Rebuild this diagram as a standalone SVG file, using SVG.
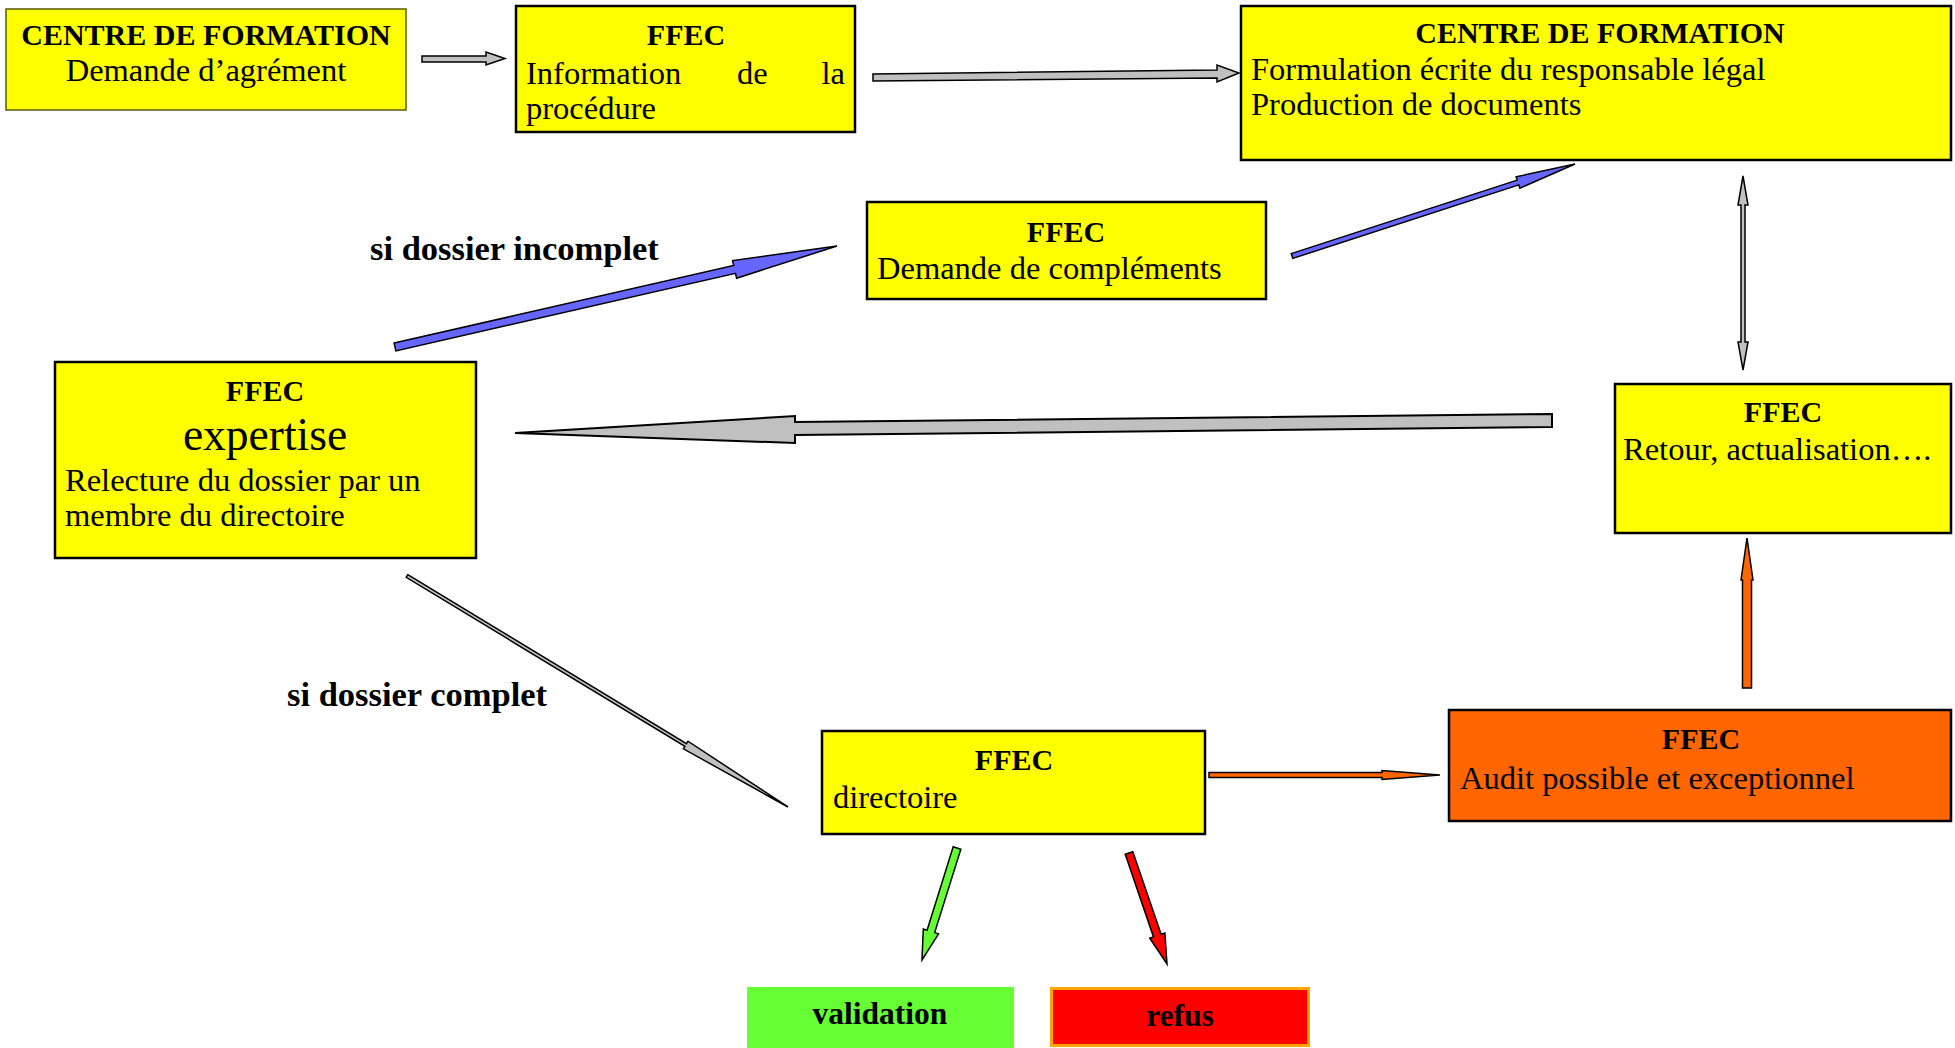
<svg xmlns="http://www.w3.org/2000/svg" width="1955" height="1048" viewBox="0 0 1955 1048">
<style>
text{font-family:"Liberation Serif","Times New Roman",serif;fill:#000}
.h{font-weight:bold;font-size:30px;text-anchor:middle}
.b{font-size:32.5px}
.lbl{font-weight:bold;font-size:34.5px}
.box{fill:#FFFF00;stroke:#000;stroke-width:2.5}
.arr{stroke:#000;stroke-width:1.5;stroke-linejoin:miter}
.gray{fill:#C0C0C0}
.blue{fill:#6666FF}
.orange{fill:#FF6600}
</style>
<rect width="1955" height="1048" fill="#fff"/>

<g id="connectors">
<polygon class="arr gray" points="422,56 486,56 486,52 505,58.5 486,65 486,62 422,62"/>
<polygon class="arr gray" points="873,74 1217,70 1217,65 1239,73 1217,82 1217,78 873,81"/>
<polygon class="arr blue" points="394.1,343.1 733.7,265.5 732.6,260.6 837,246 736.6,278.2 735.5,273.3 395.9,350.9"/>
<polygon class="arr blue" points="1291.2,253.6 1517.2,180.1 1516.1,176.8 1575,164 1519.9,188.2 1518.8,184.9 1292.8,258.4"/>
<polygon class="arr gray" points="1743,176 1748,205 1745,205 1745,342 1748,342 1743,370 1738,342 1741,342 1741,205 1738,205"/>
<polygon class="arr gray" style="stroke-width:2" points="1552,414 795,422 795,416 515,433 795,443 795,435 1552,427"/>
<polygon class="arr gray" points="407.8,574.7 686.5,743.7 688,741.2 788,807 683.4,748.8 684.9,746.3 406.2,577.3"/>
<polygon class="arr orange" points="1209,772.5 1382,772.5 1382,770.5 1440,775 1382,779.5 1382,777.5 1209,777.5"/>
<polygon class="arr orange" points="1742.5,688 1742.5,580 1741,580 1747,538 1753,580 1751.5,580 1751.5,688"/>
<polygon class="arr" fill="#66FF33" points="953.2,846.8 927.1,930.2 923.3,929 922,960 938.5,933.8 934.7,932.6 960.8,849.2"/>
<polygon class="arr" fill="#FF0000" points="1132.8,851.7 1161.1,934.3 1164.9,933 1167,964 1149.7,938.2 1153.5,936.9 1125.2,854.3"/>
<text class="lbl" x="370" y="260">si dossier incomplet</text>
<text class="lbl" x="287" y="706">si dossier complet</text>
</g>

<g id="n1">
<rect x="6" y="9" width="400" height="101" fill="#FFFF00" stroke="#5a5a00" stroke-width="1.5"/>
<text class="h" x="206" y="45">CENTRE DE FORMATION</text>
<text class="b" x="206" y="81" text-anchor="middle">Demande d’agrément</text>
</g>

<g id="n2">
<rect class="box" x="516" y="6" width="339" height="126"/>
<text class="h" x="686" y="45">FFEC</text>
<text class="b" x="526" y="83.5">Information</text>
<text class="b" x="737" y="83.5">de</text>
<text class="b" x="845" y="83.5" text-anchor="end">la</text>
<text class="b" x="526" y="118.5">procédure</text>
</g>

<g id="n3">
<rect class="box" x="1241" y="6" width="710" height="154"/>
<text class="h" x="1600" y="43">CENTRE DE FORMATION</text>
<text class="b" x="1251" y="79.5">Formulation écrite du responsable légal</text>
<text class="b" x="1251" y="114.5">Production de documents</text>
</g>

<g id="n4">
<rect class="box" x="867" y="202" width="399" height="97"/>
<text class="h" x="1066" y="242">FFEC</text>
<text class="b" x="877" y="278.5">Demande de compléments</text>
</g>

<g id="n5">
<rect class="box" x="55" y="362" width="421" height="196"/>
<text class="h" x="265" y="401">FFEC</text>
<text x="265" y="450" text-anchor="middle" font-size="45.5">expertise</text>
<text class="b" x="65" y="491">Relecture du dossier par un</text>
<text class="b" x="65" y="526">membre du directoire</text>
</g>

<g id="n6">
<rect class="box" x="1615" y="384" width="336" height="149"/>
<text class="h" x="1783" y="422">FFEC</text>
<text class="b" x="1623" y="460">Retour, actualisation….</text>
</g>

<g id="n7">
<rect class="box" x="822" y="731" width="383" height="103"/>
<text class="h" x="1014" y="770">FFEC</text>
<text class="b" x="833" y="808">directoire</text>
</g>

<g id="n8">
<rect x="1449" y="710" width="502" height="111" fill="#FF6600" stroke="#000" stroke-width="2.5"/>
<text class="h" x="1701" y="749">FFEC</text>
<text class="b" x="1460" y="789">Audit possible et exceptionnel</text>
</g>

<g id="n9">
<rect x="747" y="987" width="267" height="61" fill="#66FF33"/>
<text x="880" y="1024" text-anchor="middle" font-weight="bold" font-size="31.5">validation</text>
</g>

<g id="n10">
<rect x="1051.5" y="988.5" width="257" height="57" fill="#FF0000" stroke="#FFA500" stroke-width="3"/>
<text x="1180" y="1026" text-anchor="middle" font-weight="bold" font-size="31.5">refus</text>
</g>
</svg>
